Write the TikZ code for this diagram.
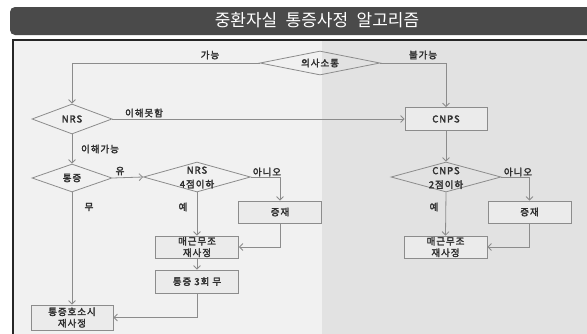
\documentclass[tikz,border=0pt]{standalone}
\usepackage{fontspec}
\newfontfamily\kr[LetterSpace=10,FakeBold=2.5]{Noto Sans CJK KR}
\newfontfamily\krtitle[WordSpace=2.2]{Noto Sans CJK KR}
\usetikzlibrary{shapes.geometric,arrows.meta}
\definecolor{ln}{HTML}{8C8C8C}
\definecolor{txt}{HTML}{2E2E2E}
\definecolor{bgl}{HTML}{F1F1F1}
\definecolor{bgr}{HTML}{E2E2E2}
\definecolor{boxf}{HTML}{EBEBEB}
\definecolor{bar}{HTML}{4A4A4A}
\tikzset{
  lbl/.style={font=\kr\fontsize{9.5}{11}\selectfont, text=txt, inner sep=0pt, align=center},
  dtxt/.style={font=\kr\fontsize{9.5}{14}\selectfont, text=txt, inner sep=0pt, align=center},
  dia/.style={diamond, draw=ln, line width=0.8pt, inner sep=0pt},
  bx/.style={rectangle, draw=ln, line width=0.8pt, fill=boxf, inner sep=0pt, font=\kr\fontsize{9.5}{11.5}\selectfont, text=txt, align=center},
  arr/.style={draw=ln, line width=0.8pt, -{Straight Barb[length=3.5pt,width=7pt]}}
}
\begin{document}
\begin{tikzpicture}[x=1pt,y=-1pt]
\useasboundingbox (0,0) rectangle (587,333);
\clip (0,0) rectangle (587,333);
\fill[white] (0,0) rectangle (587,333);
% title bar
\fill[bar, rounded corners=5pt] (10,7) rectangle (600,35);
\node[font=\krtitle\fontsize{17}{20}\selectfont, text=white, inner sep=0pt] (title) at (317,20) {중환자실 통증사정 알고리즘};
% panel
\fill[bgl] (13,40) rectangle (322,340);
\fill[bgr] (322,40) rectangle (600,340);
\draw[black!85, line width=2pt] (13,345) -- (13,40) -- (600,40);
% nodes
\node[dia, minimum width=120pt, minimum height=24pt] (comm) at (320,63) {};
\node[dtxt] (commT) at (comm) {의사소통};
\node[dia, minimum width=80pt, minimum height=30pt] (nrs) at (72,119) {};
\node[dtxt] (nrsT) at (nrs) {NRS};
\node[bx, minimum width=82pt, minimum height=23pt] (cnps) at (446,119) {CNPS};
\node[dia, minimum width=80pt, minimum height=28pt] (pain) at (72,178) {};
\node[dtxt] (painT) at (pain) {통증};
\node[dia, minimum width=107pt, minimum height=30pt] (nrs4) at (197,177) {};
\node[dtxt] (nrs4T) at (197,177.5) {NRS\\4점이하};
\node[bx, minimum width=83pt, minimum height=22pt] (sed1) at (280,212) {증재};
\node[bx, minimum width=83pt, minimum height=22pt] (re1) at (197,247) {매근무조\\재사정};
\node[bx, minimum width=83pt, minimum height=23pt] (p3) at (197,281.5) {통증 3회 무};
\node[bx, minimum width=82pt, minimum height=25pt] (reP) at (72,317.5) {통증호소시\\재사정};
\node[dia, minimum width=110pt, minimum height=30pt] (cnps2) at (446,177) {};
\node[dtxt] (cnps2T) at (446,178) {CNPS\\2점이하};
\node[bx, minimum width=83pt, minimum height=22pt] (sed2) at (529.5,212) {증재};
\node[bx, minimum width=83pt, minimum height=22pt] (re2) at (445.5,247) {매근무조\\재사정};
% connectors
\draw[arr] (comm.west) -| (nrs.north);
\draw[arr] (comm.east) -| (cnps.north);
\draw[arr] (nrs.east) -- (cnps.west);
\draw[arr] (nrs.south) -- (pain.north);
\draw[arr] (pain.east) -- (nrs4.west);
\draw[arr] (nrs4.east) -| (sed1.north);
\draw[arr] (nrs4.south) -- (re1.north);
\draw[arr] (sed1.south) |- (re1.east);
\draw[arr] (re1.south) -- (p3.north);
\draw[arr] (p3.south) |- (reP.east);
\draw[arr] (pain.south) -- (reP.north);
\draw[arr] (cnps.south) -- (cnps2.north);
\draw[arr] (cnps2.east) -| (sed2.north);
\draw[arr] (cnps2.south) -- (re2.north);
\draw[arr] (sed2.south) |- (re2.east);
% labels
\node[lbl] (l1) at (210,55) {가능};
\node[lbl] (l2) at (423,55) {불가능};
\node[lbl] (l3) at (144,113) {이해못함};
\node[lbl] (l4) at (100,149) {이해가능};
\node[lbl] (l5) at (120,171) {유};
\node[lbl] (l6) at (89,207) {무};
\node[lbl] (l7) at (267,172) {아니오};
\node[lbl] (l8) at (183,207) {예};
\node[lbl] (l9) at (518,172) {아니오};
\node[lbl] (l10) at (434,207) {예};
\end{tikzpicture}
\end{document}
